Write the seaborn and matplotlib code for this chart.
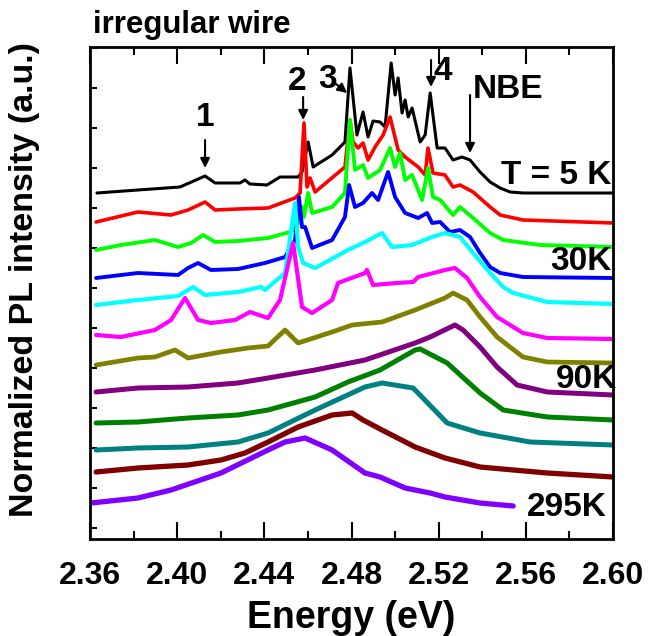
import numpy as np
import pandas as pd
import matplotlib
matplotlib.use("Agg")
import matplotlib.pyplot as plt
import seaborn as sns
from matplotlib.ticker import MultipleLocator

sns.set_style("ticks")
plt.rcParams["font.family"] = ["Liberation Sans", "DejaVu Sans"]
plt.rcParams["font.weight"] = "bold"
plt.rcParams["text.color"] = "black"
plt.rcParams["axes.labelcolor"] = "black"
plt.rcParams["axes.edgecolor"] = "black"
plt.rcParams["xtick.color"] = "black"
plt.rcParams["ytick.color"] = "black"

# PL spectra (energy in eV, intensity incl. stacking offset, a.u.)
E_01 = [2.3632, 2.382, 2.4013, 2.4128, 2.4174, 2.4288, 2.4311, 2.4334, 2.4412, 2.4472, 2.4555, 2.4573, 2.4601,
        2.4624, 2.4711, 2.477, 2.4793, 2.4825, 2.4853, 2.4876, 2.4899, 2.4931, 2.4954, 2.4982, 2.5, 2.5014, 2.5032,
        2.5046, 2.506, 2.5078, 2.5115, 2.5138, 2.5161, 2.5193, 2.5229, 2.5266, 2.5307, 2.5344, 2.539, 2.5436, 2.5482,
        2.5528, 2.5587, 2.6]
I_01 = [335, 338, 341, 352, 345, 345, 348, 344, 343, 351, 351, 356, 386,
        361, 373, 386, 460, 393, 416, 391, 407, 406, 401, 465, 433, 450, 415,
        428, 411, 420, 386, 393, 435, 380, 380, 368, 371, 368, 356, 346, 340,
        336, 335, 335]

E_02 = [2.3628, 2.382, 2.3972, 2.405, 2.4128, 2.4174, 2.4279, 2.4417, 2.4541, 2.4564, 2.4582, 2.4596, 2.461, 2.4633,
        2.477, 2.4793, 2.4807, 2.483, 2.4853, 2.4876, 2.4908, 2.4945, 2.4977, 2.5014, 2.5046, 2.5106, 2.5138, 2.5151,
        2.5174, 2.5229, 2.5266, 2.5298, 2.5358, 2.5436, 2.5482, 2.5587, 2.6]
I_02 = [306, 316, 313, 318, 326, 318, 319, 320, 330, 335, 405, 341, 350, 336,
        361, 408, 386, 380, 385, 368, 381, 393, 411, 378, 371, 361, 353, 380,
        355, 353, 341, 343, 336, 321, 313, 308, 305]

E_03 = [2.3628, 2.3742, 2.3898, 2.4004, 2.4064, 2.4119, 2.4174, 2.4279, 2.4417, 2.4518, 2.455, 2.4573, 2.4582,
        2.4601, 2.4619, 2.4711, 2.477, 2.4793, 2.4816, 2.4853, 2.4876, 2.4931, 2.4977, 2.5, 2.5023, 2.5046, 2.5078,
        2.5124, 2.5151, 2.5174, 2.5207, 2.5266, 2.5298, 2.5358, 2.5436, 2.5496, 2.5666, 2.6]
I_03 = [278, 283, 288, 281, 285, 293, 286, 287, 290, 296, 301, 321, 311,
        335, 315, 321, 335, 408, 358, 363, 350, 358, 380, 361, 375, 348, 353,
        328, 360, 331, 328, 313, 321, 310, 295, 288, 283, 281]

E_04 = [2.3628, 2.382, 2.4004, 2.405, 2.4096, 2.4155, 2.4279, 2.4403, 2.4495, 2.4541, 2.4559, 2.4573, 2.4587,
        2.4619, 2.4711, 2.477, 2.4789, 2.4816, 2.4853, 2.4894, 2.4922, 2.4968, 2.5, 2.5046, 2.5106, 2.5147, 2.517,
        2.5207, 2.5252, 2.5298, 2.5344, 2.539, 2.5436, 2.5482, 2.5587, 2.6]
I_04 = [250, 255, 253, 260, 265, 258, 259, 265, 271, 288, 331, 301, 301,
        280, 288, 311, 343, 321, 325, 335, 328, 356, 331, 315, 310, 315, 305,
        306, 296, 298, 291, 275, 261, 255, 251, 250]

E_05 = [2.3628, 2.382, 2.4004, 2.4073, 2.4128, 2.4279, 2.4385, 2.4403, 2.4495, 2.4541, 2.4555, 2.4578, 2.4633,
        2.4784, 2.4862, 2.494, 2.4986, 2.5078, 2.517, 2.5229, 2.5298, 2.5358, 2.5436, 2.5496, 2.5542, 2.5698, 2.6]
I_05 = [223, 228, 232, 241, 233, 236, 241, 238, 255, 325, 281, 265, 260,
        278, 286, 295, 281, 283, 291, 295, 291, 275, 255, 241, 235, 226, 224]

E_06 = [2.3628, 2.3742, 2.3898, 2.3972, 2.4036, 2.4096, 2.4155, 2.4266, 2.4334, 2.4417, 2.4472, 2.4532, 2.4573,
        2.4619, 2.4711, 2.4738, 2.4862, 2.4871, 2.4899, 2.5009, 2.5083, 2.5106, 2.5229, 2.5275, 2.533, 2.539, 2.5468,
        2.5587, 2.5698, 2.6]
I_06 = [193, 191, 198, 208, 230, 208, 205, 208, 216, 210, 228, 285, 221,
        215, 228, 245, 255, 258, 243, 245, 246, 251, 258, 260, 250, 231, 211,
        195, 190, 189]

E_07 = [2.3628, 2.382, 2.3898, 2.399, 2.405, 2.4201, 2.4325, 2.4417, 2.4495, 2.4555, 2.4711, 2.4803, 2.494,
        2.5092, 2.5229, 2.5266, 2.533, 2.539, 2.5468, 2.5587, 2.5698, 2.6]
I_07 = [163, 170, 171, 178, 170, 176, 180, 182, 198, 185, 196, 203, 206,
        218, 230, 235, 228, 211, 191, 171, 166, 165]

E_08 = [2.3628, 2.382, 2.405, 2.4279, 2.4417, 2.4633, 2.4862, 2.5092, 2.5161, 2.5275, 2.5312, 2.539, 2.5468,
        2.556, 2.5698, 2.6]
I_08 = [136, 140, 141, 145, 150, 158, 168, 185, 191, 203, 198, 181, 161,
        143, 136, 133]

E_09 = [2.3628, 2.382, 2.405, 2.4279, 2.4417, 2.4633, 2.4784, 2.4931, 2.5092, 2.5115, 2.5239, 2.539, 2.5496,
        2.5698, 2.6]
I_09 = [105, 106, 110, 113, 118, 131, 146, 158, 178, 179, 165, 135, 118,
        111, 108]

E_10 = [2.3628, 2.382, 2.405, 2.4279, 2.4417, 2.4633, 2.4862, 2.494, 2.5083, 2.5239, 2.539, 2.562, 2.6]
I_10 = [78, 80, 81, 86, 95, 118, 141, 145, 140, 105, 95, 86, 83]

E_11 = [2.3628, 2.382, 2.405, 2.4201, 2.4311, 2.4417, 2.4555, 2.4711, 2.4803, 2.4853, 2.494, 2.5092, 2.5229,
        2.539, 2.5698, 2.6]
I_11 = [56, 60, 63, 68, 75, 86, 101, 113, 115, 108, 98, 81, 70,
        61, 55, 51]

E_12 = [2.3605, 2.382, 2.3972, 2.4201, 2.4417, 2.4495, 2.4587, 2.4711, 2.4862, 2.4931, 2.5046, 2.5161, 2.5229,
        2.539, 2.5542]
I_12 = [25, 30, 38, 55, 78, 86, 90, 78, 55, 51, 40, 35, 31,
        25, 22]

x_ticks = [2.36, 2.40, 2.44, 2.48, 2.52, 2.56, 2.60]
x_tick_labels = ["2.36", "2.40", "2.44", "2.48", "2.52", "2.56", "2.60"]

energies = [E_01, E_02, E_03, E_04, E_05, E_06, E_07, E_08, E_09, E_10, E_11, E_12]
intensities = [I_01, I_02, I_03, I_04, I_05, I_06, I_07, I_08, I_09, I_10, I_11, I_12]
colors = ["#000000", "#ff0000", "#00ff00", "#0000ff", "#00ffff", "#ff00ff",
          "#808000", "#800080", "#008000", "#008080", "#800000", "#8000ff"]
widths = [2.2, 2.6, 2.8, 2.8, 3.0, 3.0, 3.4, 3.6, 3.6, 3.6, 3.8, 3.8]

fig = plt.figure(figsize=(6.51, 6.36), dpi=100)
ax = fig.add_axes([90 / 651, 97 / 636, 523 / 651, 492 / 636])

for i in range(len(energies)):
    df = pd.DataFrame({"energy": energies[i], "intensity": intensities[i]})
    sns.lineplot(data=df, x="energy", y="intensity", color=colors[i], linewidth=widths[i],
                 sort=False, estimator=None, ax=ax, solid_joinstyle="round")

ax.set_xticks(x_ticks)
ax.set_xticklabels(x_tick_labels, fontweight="bold")
ax.xaxis.set_minor_locator(MultipleLocator(0.02))
ax.yaxis.set_major_locator(MultipleLocator(40))
ax.set_xlim(2.36, 2.60)
ax.set_ylim(-11, 481)
ax.tick_params(axis="x", which="both", direction="in", top=True, width=1.5, labelsize=23, pad=16)
ax.tick_params(axis="x", which="major", length=12)
ax.tick_params(axis="x", which="minor", length=6)
ax.tick_params(axis="y", which="major", direction="in", length=5, width=1.5, labelleft=False)
for sp in ax.spines.values():
    sp.set_linewidth(2)
ax.set_xlabel("Energy (eV)", fontsize=27, fontweight="bold", labelpad=6)
ax.set_ylabel("")

fig.text(0.037, 0.56, "Normalized PL intensity (a.u.)", rotation=90, ha="center", va="center",
         fontsize=24.5, fontweight="bold")
fig.text(93 / 651, 1 - 25 / 636, "irregular wire", ha="left", va="center", fontsize=22.5, fontweight="bold")

arrow = dict(arrowstyle="-|>", color="k", lw=1.5, mutation_scale=14, shrinkA=0, shrinkB=0)
ax.text(2.4128, 410, "1", ha="center", va="center", fontsize=24, fontweight="bold")
ax.annotate("", xy=(2.4128, 360), xytext=(2.4128, 388), arrowprops=arrow)
ax.text(2.455, 446, "2", ha="center", va="center", fontsize=24, fontweight="bold")
ax.annotate("", xy=(2.4578, 408), xytext=(2.4578, 431), arrowprops=arrow)
ax.text(2.4688, 448, "3", ha="center", va="center", fontsize=24, fontweight="bold")
ax.annotate("", xy=(2.478, 435), xytext=(2.4729, 444), arrowprops=arrow)
ax.text(2.522, 456, "4", ha="center", va="center", fontsize=24, fontweight="bold")
ax.annotate("", xy=(2.5165, 441), xytext=(2.5165, 468), arrowprops=arrow)
ax.text(2.5519, 438, "NBE", ha="center", va="center", fontsize=24, fontweight="bold")
ax.annotate("", xy=(2.5344, 375), xytext=(2.5344, 433), arrowprops=arrow)

ax.text(2.5991, 353, "T = 5 K", ha="right", va="center", fontsize=24, fontweight="bold")
ax.text(2.5995, 266, "30K", ha="right", va="center", fontsize=24, fontweight="bold")
ax.text(2.6019, 148, "90K", ha="right", va="center", fontsize=24, fontweight="bold")
ax.text(2.5973, 21, "295K", ha="right", va="center", fontsize=24, fontweight="bold")

fig.savefig("out.png", dpi=100)
